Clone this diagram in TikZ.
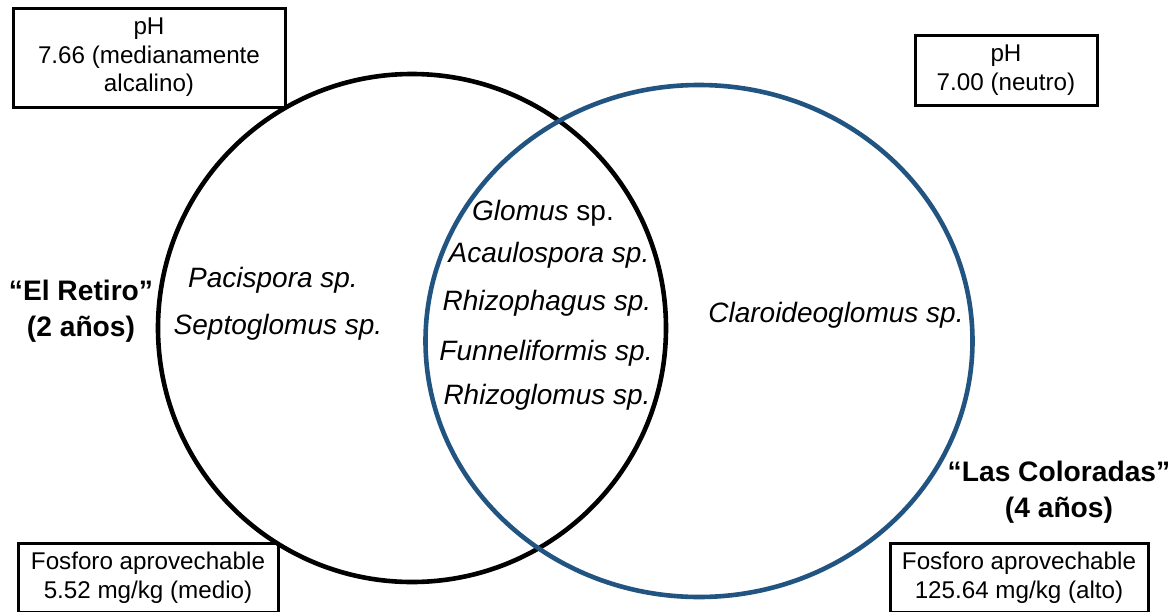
\documentclass[tikz,border=0pt]{standalone}
\usepackage{fontspec}
\setmainfont{Liberation Sans}
\usetikzlibrary{shapes.geometric}
\definecolor{venblue}{RGB}{33,84,128}
\begin{document}
\begin{tikzpicture}[x=1pt,y=-1pt,
  infobox/.style={draw=black,line width=3pt,align=center,inner sep=0pt,
    font=\fontsize{24.2}{28.5}\selectfont},
  species/.style={align=center,inner sep=0pt,font=\fontsize{28}{30}\selectfont\itshape},
  sitelabel/.style={align=center,inner sep=0pt,font=\fontsize{28.2}{36}\selectfont\bfseries}]
\useasboundingbox (0,0) rectangle (1176,611);
\clip (0,0) rectangle (1176,611);
% circles
\node[draw=black,line width=4.6pt,circle,minimum size=508pt,inner sep=0pt] (retiro) at (412,328) {};
\node[draw=venblue,line width=4.6pt,ellipse,minimum width=547pt,minimum height=512pt,inner sep=0pt] (coloradas) at (699,341) {};
% info boxes
\node[infobox,minimum width=272pt,minimum height=99pt] (ph1) at (149,57.5) {pH\\7.66 (medianamente\\alcalino)};
\node[infobox,minimum width=182pt,minimum height=70pt] (ph2) at (1006,70) {pH\\7.00 (neutro)};
\node[infobox,minimum width=260pt,minimum height=69pt] (p1) at (148,577.5) {Fosforo aprovechable\\5.52 mg/kg (medio)};
\node[infobox,minimum width=258pt,minimum height=69pt] (p2) at (1019,577.5) {Fosforo aprovechable\\125.64 mg/kg (alto)};
% site labels
\node[sitelabel] (site1) at (81,311) {“El Retiro”\\(2 años)};
\node[sitelabel] (site2) at (1059,492) {“Las Coloradas”\\(4 años)};
% species
\node[species] (pac) at (273,280) {Pacispora sp.};
\node[species] (sep) at (278,327) {Septoglomus sp.};
\node[species] (glo) at (543,213) {Glomus \upshape sp.};
\node[species] (aca) at (549,255) {Acaulospora sp.};
\node[species] (rhp) at (547,303) {Rhizophagus sp.};
\node[species] (fun) at (546,353) {Funneliformis sp.};
\node[species] (rhg) at (547,397) {Rhizoglomus sp.};
\node[species] (cla) at (836,315) {Claroideoglomus sp.};
\end{tikzpicture}
\end{document}
